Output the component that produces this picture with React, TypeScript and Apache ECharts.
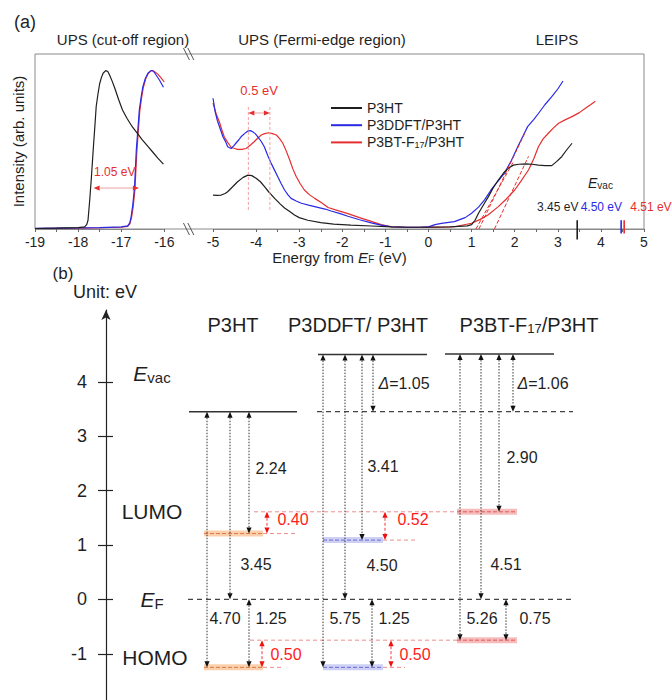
import React, { useEffect, useRef } from 'react';
import * as echarts from 'echarts';

const FONT = '"Liberation Sans", Arial, Helvetica, sans-serif';
const INK = '#1f1f1f';
const BLUE = '#2a2ae6';
const RED = '#e62e2e';
const PINK = '#ee8c8c';
const FRAME = '#8a8a8a';

// ---------------- (a) spectra ----------------
const legendNames = ['P3HT', 'P3DDFT/P3HT', 'P3BT-F17/P3HT'];
const seriesColors = [INK, BLUE, RED];

// secondary-electron cut-off region (x: energy from EF, y: arb. units)
const p3htCutoff = [[-19, 0.3], [-18.5, 0.5], [-18, 0.8], [-17.85, 1.2], [-17.8, 2.5], [-17.77, 5], [-17.73, 16.6], [-17.69, 30], [-17.65, 45], [-17.61, 59], [-17.58, 70], [-17.54, 77], [-17.5, 83], [-17.46, 86.5], [-17.42, 89], [-17.36, 90.5], [-17.31, 90], [-17.27, 88], [-17.21, 84.5], [-17.15, 80.6], [-17.06, 74], [-16.97, 68], [-16.86, 63], [-16.74, 58.3], [-16.62, 54.5], [-16.51, 50.9], [-16.39, 47.5], [-16.27, 44], [-16.15, 40.5], [-16.02, 37.1]];
const p3ddftCutoff = [[-19, 0.4], [-18.5, 0.5], [-18, 0.6], [-17.5, 0.8], [-17, 1.2], [-16.85, 1.8], [-16.8, 3.5], [-16.77, 7], [-16.73, 14], [-16.69, 24], [-16.65, 45], [-16.61, 58], [-16.58, 68], [-16.54, 75], [-16.5, 81], [-16.44, 86], [-16.38, 89], [-16.31, 90.5], [-16.28, 90.5], [-16.23, 89.5], [-16.19, 88], [-16.11, 85], [-16.02, 81]];
const p3btCutoff = [[-19, 0.3], [-18.5, 0.4], [-18, 0.5], [-17.5, 0.7], [-17, 1], [-16.85, 1.5], [-16.8, 3], [-16.76, 6.5], [-16.72, 13], [-16.68, 23], [-16.64, 43], [-16.6, 57], [-16.57, 67], [-16.53, 74.5], [-16.49, 80.5], [-16.43, 86], [-16.37, 89], [-16.3, 90.5], [-16.26, 90.5], [-16.2, 89.5], [-16.15, 88.5], [-16.08, 86.5], [-16.0, 84]];

// Fermi-edge region (UPS) followed by LEIPS
const p3htValence = [[-5.0, 19.4], [-4.9, 19.2], [-4.81, 19.4], [-4.72, 20.3], [-4.66, 21.3], [-4.55, 24], [-4.43, 27], [-4.3, 29.5], [-4.19, 30.8], [-4.1, 30.5], [-4.0, 29], [-3.9, 27], [-3.81, 24.3], [-3.7, 21], [-3.57, 17.5], [-3.45, 14.5], [-3.34, 12], [-3.22, 10], [-3.11, 8.0], [-3.0, 6.5], [-2.8, 5], [-2.5, 3.6], [-2.2, 2.8], [-1.8, 2.2], [-1.33, 1.7], [-0.86, 1.2], [-0.5, 1], [0, 1], [0.5, 1.2], [0.9, 1.8], [1.0, 2.5], [1.08, 5], [1.16, 9], [1.28, 14], [1.39, 18.5], [1.5, 23.5], [1.62, 28], [1.74, 32], [1.85, 34.7], [1.97, 36.5], [2.09, 37], [2.25, 37.2], [2.4, 37], [2.55, 36.5], [2.71, 36.2], [2.86, 36.2], [2.97, 38.5], [3.09, 41.3], [3.2, 45], [3.33, 49]];
const p3ddftValence = [[-5.0, 74.7], [-4.95, 67], [-4.9, 62], [-4.83, 57], [-4.77, 52.7], [-4.7, 49.5], [-4.66, 47], [-4.58, 46], [-4.52, 47.5], [-4.47, 49], [-4.4, 51], [-4.35, 52.7], [-4.27, 54.5], [-4.19, 56], [-4.13, 56.2], [-4.08, 55.6], [-4.02, 54.5], [-3.96, 52.7], [-3.88, 50], [-3.81, 47], [-3.73, 42], [-3.65, 37.5], [-3.57, 33.5], [-3.5, 30], [-3.42, 26], [-3.34, 22.3], [-3.26, 19.5], [-3.19, 17.5], [-3.07, 16], [-2.95, 14.7], [-2.76, 13.5], [-2.57, 12.4], [-2.4, 11.4], [-2.26, 10.3], [-2.05, 8.8], [-1.87, 7.3], [-1.6, 5.3], [-1.33, 3.5], [-1.1, 2.2], [-0.86, 1.3], [-0.5, 1], [-0.2, 1], [0, 1.2], [0.15, 2.5], [0.3, 3.2], [0.6, 4.2], [0.85, 6.5], [1.0, 9], [1.16, 12.5], [1.3, 16.6], [1.45, 22.3], [1.6, 27], [1.76, 31.8], [1.92, 39], [2.07, 47], [2.19, 53], [2.3, 58.5], [2.44, 62.5], [2.55, 66], [2.7, 71], [2.86, 75.6], [3.0, 80], [3.12, 84.6]];
const p3btValence = [[-5.0, 72], [-4.93, 66], [-4.85, 61], [-4.8, 57], [-4.74, 52.7], [-4.66, 49.5], [-4.58, 46.7], [-4.5, 46], [-4.43, 45.5], [-4.33, 45.5], [-4.23, 46], [-4.13, 48], [-4.04, 50], [-3.96, 52], [-3.88, 53.7], [-3.8, 54.5], [-3.71, 55], [-3.62, 54.5], [-3.53, 53.7], [-3.45, 51.5], [-3.38, 49], [-3.3, 44.5], [-3.22, 39.4], [-3.15, 34.5], [-3.07, 30], [-2.98, 26], [-2.88, 22.3], [-2.76, 19.5], [-2.64, 17.5], [-2.48, 15], [-2.33, 12.3], [-2.1, 10.5], [-1.87, 8.8], [-1.6, 6.5], [-1.31, 4.2], [-1.1, 2.5], [-0.85, 1.2], [-0.5, 1], [-0.2, 1], [0, 1.2], [0.3, 1.0], [0.6, 1.3], [1.0, 3.3], [1.2, 5.5], [1.38, 8], [1.62, 12.8], [1.8, 17], [2.0, 22.3], [2.15, 27.5], [2.32, 33.7], [2.44, 40], [2.55, 47], [2.66, 51.5], [2.78, 54.7], [2.9, 57.8], [3.02, 60.4], [3.18, 62.5], [3.33, 64.2], [3.5, 66.5], [3.64, 69], [3.76, 71], [3.87, 73]];

// LEIPS onset tangents
const onsetFits = [
  [[1.1, 0], [1.96, 38]],
  [[1.17, 0], [2.23, 54.5]],
  [[1.53, 0], [2.32, 41.5]],
];
const vacuumLevels = [3.45, 4.50, 4.51];
const cutoffEdges = [-17.64, -16.59]; // 1.05 eV shift
const peakMaxima = [-4.18, -3.68]; // 0.5 eV shift
const axisBreak = [-16, -5];

// ---------------- (b) energy diagram ----------------
const materials = ['P3HT', 'P3DDFT/ P3HT', 'P3BT-F17/P3HT'];
const vacuumLevel = [3.45, 4.50, 4.51];
const electronAffinity = [2.24, 3.41, 2.90];
const ionizationEnergy = [4.70, 5.75, 5.26];
const fermiLevel = 0;
const lumoLevel = vacuumLevel.map((v, i) => +(v - electronAffinity[i]).toFixed(2));
const homoLevel = vacuumLevel.map((v, i) => +(v - ionizationEnergy[i]).toFixed(2));
const energyTicks = [-1, 0, 1, 2, 3, 4];

// layout of the diagram columns (horizontal positions, px from the energy axis)
const colLayout = [
  { title: 127, lvL: 83, lvR: 191, bandL: 98, bandR: 157, lumoTail: 191, homoTail: 178, ieX: 101, wfX: 124, eaX: 143, hbX: 143, dX: 0, lsX: 161, hsX: 156, band: 0,
    lab: { ie: [119, -0.35], wf: [150, 0.65], ea: [165, 2.41], hb: [165, -0.35], d: [0, 0], ls: [187, 1.47], hs: [180, -1.02] } },
  { title: 252, lvL: 212, lvR: 321, bandL: 217, bandR: 277, lumoTail: 311, homoTail: 299, ieX: 217, wfX: 239, eaX: 256, hbX: 266, dX: 267, lsX: 279, hsX: 285, band: 1,
    lab: { ie: [239, -0.35], wf: [276, 0.63], ea: [277, 2.44], hb: [288, -0.35], d: [298, 3.96], ls: [307, 1.46], hs: [309, -1.02] } },
  { title: 423, lvL: 339, lvR: 448, bandL: 351, bandR: 411, lumoTail: 0, homoTail: 0, ieX: 354, wfX: 375, eaX: 393, hbX: 400, dX: 407, lsX: 0, hsX: 0, band: 2,
    lab: { ie: [376, -0.35], wf: [400, 0.65], ea: [416, 2.61], hb: [429, -0.35], d: [437, 3.96], ls: [0, 0], hs: [0, 0] } },
];
const bandColors = [
  { light: '#fbd0ac', dark: '#e0764a' },
  { light: '#cdd0f3', dark: '#6b6bd6' },
  { light: '#f6bcbc', dark: '#e05a5a' },
];

const sub = { fontSize: 10, verticalAlign: 'bottom', lineHeight: 9, fontFamily: FONT };

function arrow(p1: number[], p2: number[], lineColor: string, headColor: string, dash: any) {
  const dx = p2[0] - p1[0], dy = p2[1] - p1[1];
  const len = Math.hypot(dx, dy) || 1;
  const ux = dx / len, uy = dy / len;
  const hl = 6, hw = 2.6;
  const head = (tx: number, ty: number, ax: number, ay: number) => ({
    type: 'polygon',
    shape: { points: [[tx, ty], [tx - ax * hl - ay * hw, ty - ay * hl + ax * hw], [tx - ax * hl + ay * hw, ty - ay * hl - ax * hw]] },
    style: { fill: headColor },
  });
  return {
    type: 'group',
    children: [
      { type: 'line', shape: { x1: p1[0] + ux * hl, y1: p1[1] + uy * hl, x2: p2[0] - ux * hl, y2: p2[1] - uy * hl }, style: { stroke: lineColor, lineWidth: 1, lineDash: dash } },
      head(p2[0], p2[1], ux, uy),
      head(p1[0], p1[1], -ux, -uy),
    ],
  };
}

function label(p: number[], text: string, fill: string, fontSize: number, rich?: any, align = 'center') {
  return {
    type: 'text', x: p[0], y: p[1],
    style: { text, fill, fontSize, fontFamily: FONT, align, verticalAlign: 'middle', rich },
  };
}

function seg(p1: number[], p2: number[], stroke: string, lineWidth: number, dash?: any) {
  return { type: 'line', shape: { x1: p1[0], y1: p1[1], x2: p2[0], y2: p2[1] }, style: { stroke, lineWidth, lineDash: dash } };
}

// ---- annotation items for panel (a) ----
type Item = { kind: string; [k: string]: any };
const annotA: Item[] = [
  { kind: 'break' },
  { kind: 'harrow', x1: cutoffEdges[0], x2: cutoffEdges[1], y: 23.4, line: '#eba0a0', head: RED },
  { kind: 'text', x: -17.15, y: 32.6, text: `${(cutoffEdges[1] - cutoffEdges[0]).toFixed(2)} eV`, color: RED, size: 12 },
  { kind: 'vline', x: peakMaxima[0], y1: 10.9, y2: 70.9 },
  { kind: 'vline', x: peakMaxima[1], y1: 10.9, y2: 70.9 },
  { kind: 'harrow', x1: peakMaxima[0], x2: peakMaxima[1], y: 66.3, line: '#eba0a0', head: RED },
  { kind: 'text', x: (peakMaxima[0] + peakMaxima[1]) / 2, y: 79.4, text: `${(peakMaxima[1] - peakMaxima[0]).toFixed(1)} eV`, color: RED, size: 13 },
  ...vacuumLevels.map((v, i) => ({ kind: 'mark', x: v, color: seriesColors[i], y1: i === 0 ? -6 : -2.5, y2: 5, dodge: [0, -1.3, 1.3][i] })),
  ...vacuumLevels.map((v, i) => ({ kind: 'text', x: [3.0, 4.01, 5.16][i], y: 12.6, text: `${v.toFixed(2)} eV`, color: seriesColors[i], size: 12 })),
  { kind: 'rich', x: 3.99, y: 26.3, text: '{i|E}{s|vac}', color: INK, size: 14 },
];

// ---- items for panel (b) ----
const itemsB: Item[] = [];
const evacRef = vacuumLevel[0];
itemsB.push({ kind: 'seg', x1: 82, x2: 467, y1: fermiLevel, y2: fermiLevel, stroke: '#444', w: 1.2, dash: [5, 4] });
itemsB.push({ kind: 'seg', x1: 211, x2: 467, y1: evacRef, y2: evacRef, stroke: '#444', w: 1.2, dash: [5, 4] });
itemsB.push({ kind: 'seg', x1: 148, x2: colLayout[2].bandL, y1: lumoLevel[2], y2: lumoLevel[2], stroke: PINK, w: 1, dash: [4, 3] });
itemsB.push({ kind: 'seg', x1: 144, x2: colLayout[2].bandL, y1: homoLevel[2], y2: homoLevel[2], stroke: PINK, w: 1, dash: [4, 3] });
colLayout.forEach((c, i) => {
  itemsB.push({ kind: 'seg', x1: c.lvL, x2: c.lvR, y1: vacuumLevel[i], y2: vacuumLevel[i], stroke: '#333', w: 1.5 });
  if (c.lumoTail) itemsB.push({ kind: 'seg', x1: c.bandR, x2: c.lumoTail, y1: lumoLevel[i], y2: lumoLevel[i], stroke: PINK, w: 1, dash: [4, 3] });
  if (c.homoTail) itemsB.push({ kind: 'seg', x1: c.bandR, x2: c.homoTail, y1: homoLevel[i], y2: homoLevel[i], stroke: PINK, w: 1, dash: [4, 3] });
  itemsB.push({ kind: 'band', x1: c.bandL, x2: c.bandR, y: lumoLevel[i], band: c.band });
  itemsB.push({ kind: 'band', x1: c.bandL, x2: c.bandR, y: homoLevel[i], band: c.band });
  itemsB.push({ kind: 'arrow', x: c.ieX, y1: vacuumLevel[i], y2: homoLevel[i], red: false });
  itemsB.push({ kind: 'arrow', x: c.wfX, y1: vacuumLevel[i], y2: fermiLevel, red: false });
  itemsB.push({ kind: 'arrow', x: c.eaX, y1: vacuumLevel[i], y2: lumoLevel[i], red: false });
  itemsB.push({ kind: 'arrow', x: c.hbX, y1: fermiLevel, y2: homoLevel[i], red: false });
  const fmt = (v: number) => v.toFixed(2);
  itemsB.push({ kind: 'text', p: c.lab.ie, text: fmt(ionizationEnergy[i]), color: INK, size: 16 });
  itemsB.push({ kind: 'text', p: c.lab.wf, text: fmt(vacuumLevel[i] - fermiLevel), color: INK, size: 16 });
  itemsB.push({ kind: 'text', p: c.lab.ea, text: fmt(electronAffinity[i]), color: INK, size: 16 });
  itemsB.push({ kind: 'text', p: c.lab.hb, text: fmt(fermiLevel - homoLevel[i]), color: INK, size: 16 });
  if (i > 0) {
    itemsB.push({ kind: 'arrow', x: c.dX, y1: vacuumLevel[i], y2: evacRef, red: false });
    itemsB.push({ kind: 'text', p: c.lab.d, text: `{i|Δ}=${fmt(vacuumLevel[i] - evacRef)}`, color: INK, size: 16, rich: true });
  }
  if (i < 2) {
    itemsB.push({ kind: 'arrow', x: c.lsX, y1: lumoLevel[2], y2: lumoLevel[i], red: true });
    itemsB.push({ kind: 'arrow', x: c.hsX, y1: homoLevel[2], y2: homoLevel[i], red: true });
    itemsB.push({ kind: 'text', p: c.lab.ls, text: fmt(lumoLevel[2] - lumoLevel[i]), color: '#ff1a1a', size: 16 });
    itemsB.push({ kind: 'text', p: c.lab.hs, text: fmt(homoLevel[2] - homoLevel[i]), color: '#ff1a1a', size: 16 });
  }
  itemsB.push({ kind: 'title', p: [c.title, 5.05], text: i === 2 ? 'P3BT-F{s|17}/P3HT' : materials[i] });
});
itemsB.push({ kind: 'side', p: [46, 4.16], text: '{i|E}{s|vac}' });
itemsB.push({ kind: 'side', p: [46, 1.61], text: 'LUMO' });
itemsB.push({ kind: 'side', p: [46, 0], text: '{i|E}{s|F}' });
itemsB.push({ kind: 'side', p: [49, -1.06], text: 'HOMO' });

const richBig = {
  i: { fontStyle: 'italic', fontSize: 21, fontFamily: FONT, lineHeight: 24, color: INK },
  s: { fontSize: 15, fontFamily: FONT, verticalAlign: 'bottom', lineHeight: 11, color: INK },
};
const richTitle = {
  s: { fontSize: 13, fontFamily: FONT, verticalAlign: 'bottom', lineHeight: 10, color: INK },
};
const richDelta = { i: { fontStyle: 'italic', fontSize: 16, fontFamily: FONT, color: INK } };

function renderA(params: any, api: any) {
  const it = annotA[params.dataIndex];
  const c = (x: number, y: number) => api.coord([x, y]);
  if (it.kind === 'break') {
    const pl = c(axisBreak[0], 0), pr = c(axisBreak[1], 0), pt = c(axisBreak[0], 100);
    const mx = (pl[0] + pr[0]) / 2;
    const kids: any[] = [];
    [pl[1], pt[1]].forEach((y) => {
      [-2.2, 2.2].forEach((o) => kids.push(seg([mx + o - 3, y - 6], [mx + o + 3, y + 6], '#555', 1)));
    });
    return { type: 'group', children: kids };
  }
  if (it.kind === 'harrow') return arrow(c(it.x1, it.y), c(it.x2, it.y), it.line, it.head, null);
  if (it.kind === 'vline') return seg(c(it.x, it.y1), c(it.x, it.y2), '#f2a0a0', 1, [3, 2]);
  if (it.kind === 'mark') {
    const a = c(it.x, it.y1), b = c(it.x, it.y2);
    return seg([a[0] + it.dodge, a[1]], [b[0] + it.dodge, b[1]], it.color, 1.6);
  }
  if (it.kind === 'text') return label(c(it.x, it.y), it.text, it.color, it.size);
  if (it.kind === 'rich') return label(c(it.x, it.y), it.text, it.color, it.size, {
    i: { fontStyle: 'italic', fontSize: 14, fontFamily: FONT, lineHeight: 16, color: INK },
    s: { ...sub, color: INK },
  });
  return null;
}

function renderB(params: any, api: any) {
  const it = itemsB[params.dataIndex];
  const c = (x: number, y: number) => api.coord([x, y]);
  switch (it.kind) {
    case 'seg': return seg(c(it.x1, it.y1), c(it.x2, it.y2), it.stroke, it.w, it.dash);
    case 'band': {
      const b = bandColors[it.band];
      const p1 = c(it.x1, it.y), p2 = c(it.x2, it.y);
      return { type: 'group', children: [seg(p1, p2, b.light, 6), seg(p1, p2, b.dark, 1, [4, 2])] };
    }
    case 'arrow':
      return it.red
        ? arrow(c(it.x, it.y1), c(it.x, it.y2), '#f03a3a', '#f01010', [3, 2])
        : arrow(c(it.x, it.y1), c(it.x, it.y2), '#333', '#111', [1.5, 1.5]);
    case 'text':
      return label(c(it.p[0], it.p[1]), it.text, it.color, it.size, it.rich ? richDelta : undefined);
    case 'title':
      return label(c(it.p[0], it.p[1]), it.text, INK, 20, richTitle);
    case 'side':
      return label(c(it.p[0], it.p[1]), it.text, INK, 21, richBig);
  }
  return null;
}

const withGap = (a: number[][], b: number[][]) => [...a, [(axisBreak[0] + axisBreak[1]) / 2, null], ...b];

const option: any = {
  animation: false,
  textStyle: { fontFamily: FONT },
  grid: [
    { left: 35, right: 28, top: 54, height: 175, show: true, borderColor: FRAME, borderWidth: 1 },
    { left: 106, right: 0, top: 310, bottom: 0 },
  ],
  legend: {
    data: legendNames,
    orient: 'vertical',
    left: 330,
    top: 101,
    padding: 0,
    itemWidth: 31,
    itemHeight: 14,
    itemGap: 3.2,
    itemStyle: { opacity: 0 },
    textStyle: {
      fontFamily: FONT, fontSize: 14, color: INK, lineHeight: 14,
      rich: { n: { fontSize: 14, fontFamily: FONT, color: INK }, s: { fontSize: 9, fontFamily: FONT, verticalAlign: 'bottom', lineHeight: 6, color: INK } },
    },
    formatter: (n: string) => (n === 'P3BT-F17/P3HT' ? '{n|P3BT-F}{s|17}{n|/P3HT}' : n),
  },
  graphic: [
    { type: 'text', x: 25, y: 22, style: { text: '(a)', fontSize: 18, fontFamily: FONT, fill: INK, align: 'center', verticalAlign: 'middle' } },
    { type: 'text', x: 123, y: 39, style: { text: 'UPS (cut-off region)', fontSize: 15, fontFamily: FONT, fill: INK, align: 'center', verticalAlign: 'middle' } },
    { type: 'text', x: 322, y: 39, style: { text: 'UPS (Fermi-edge region)', fontSize: 15, fontFamily: FONT, fill: INK, align: 'center', verticalAlign: 'middle' } },
    { type: 'text', x: 557, y: 39, style: { text: 'LEIPS', fontSize: 15, fontFamily: FONT, fill: INK, align: 'center', verticalAlign: 'middle' } },
    { type: 'text', x: 63, y: 273, style: { text: '(b)', fontSize: 17, fontFamily: FONT, fill: INK, align: 'center', verticalAlign: 'middle' } },
    { type: 'text', x: 73, y: 292, style: { text: 'Unit: eV', fontSize: 18, fontFamily: FONT, fill: INK, align: 'left', verticalAlign: 'middle' } },
  ],
  xAxis: [
    {
      type: 'value', gridIndex: 0, min: -19, max: 5, interval: 1,
      breaks: [{ start: axisBreak[0], end: axisBreak[1], gap: '8%' }],
      breakArea: { show: false },
      axisLine: { lineStyle: { color: FRAME, width: 1 } },
      axisTick: { show: true, length: 3, lineStyle: { color: '#666' } },
      minorTick: { show: true, splitNumber: 2, length: 3, lineStyle: { color: '#666' } },
      splitLine: { show: false },
      axisLabel: { fontSize: 14, color: INK, margin: 6, fontFamily: FONT },
      name: 'Energy from {i|E}{s|F} (eV)',
      nameLocation: 'middle',
      nameGap: 20,
      nameTextStyle: {
        fontSize: 15, color: INK, fontFamily: FONT,
        rich: { i: { fontStyle: 'italic', fontSize: 15, fontFamily: FONT, color: INK }, s: { ...sub, color: INK } },
      },
    },
    { type: 'value', gridIndex: 1, min: 0, max: 566, show: false },
  ],
  yAxis: [
    {
      type: 'value', gridIndex: 0, min: 0, max: 100,
      axisLine: { show: false }, axisTick: { show: false }, axisLabel: { show: false }, splitLine: { show: false },
      name: 'Intensity (arb. units)', nameLocation: 'middle', nameGap: 9,
      nameTextStyle: { fontSize: 15, color: INK, fontFamily: FONT },
    },
    {
      type: 'value', gridIndex: 1, position: 'left', min: -1.85, max: 5.32,
      axisLine: { show: true, symbol: ['none', 'arrow'], symbolSize: [7, 10], lineStyle: { color: '#222', width: 1.2 } },
      axisTick: { show: true, length: 8, customValues: energyTicks, lineStyle: { color: '#222', width: 1.2 } },
      axisLabel: { show: true, customValues: energyTicks, fontSize: 18, color: INK, margin: 19, fontFamily: FONT },
      splitLine: { show: false },
    },
    {
      type: 'value', gridIndex: 1, position: 'left', offset: 0, min: -1.85, max: 5.32,
      axisLine: { show: false },
      axisTick: { show: true, inside: true, length: 7, customValues: energyTicks, lineStyle: { color: '#222', width: 1.2 } },
      axisLabel: { show: false },
      splitLine: { show: false },
    },
  ],
  series: [
    ...[
      withGap(p3htCutoff, p3htValence),
      withGap(p3ddftCutoff, p3ddftValence),
      withGap(p3btCutoff, p3btValence),
    ].map((d, i) => ({
      type: 'line', name: legendNames[i], xAxisIndex: 0, yAxisIndex: 0, data: d,
      symbol: 'none', connectNulls: false, smooth: false,
      lineStyle: { color: seriesColors[i], width: 1.2 }, itemStyle: { color: seriesColors[i] }, z: 3 - i + 2,
    })),
    ...onsetFits.map((d, i) => ({
      type: 'line', name: `fit${i}`, xAxisIndex: 0, yAxisIndex: 0, data: d, symbol: 'none',
      lineStyle: { color: RED, width: 1, type: [4, 2] }, z: 6,
    })),
    {
      type: 'custom', name: 'annotA', xAxisIndex: 0, yAxisIndex: 0, clip: false, z: 8,
      data: annotA.map(() => [0, 0]), renderItem: renderA, silent: true,
    },
    {
      type: 'custom', name: 'diagram', xAxisIndex: 1, yAxisIndex: 1, clip: false, z: 8,
      data: itemsB.map(() => [0, 0]), renderItem: renderB, silent: true,
    },
  ],
};

export default function App() {
  const ref = useRef<HTMLDivElement>(null);
  useEffect(() => {
    const chart = echarts.init(ref.current as HTMLDivElement, null, { renderer: 'svg' });
    chart.setOption(option);
    return () => chart.dispose();
  }, []);
  return <div ref={ref} style={{ position: 'absolute', left: 0, top: 0, width: 672, height: 700 }} />;
}
